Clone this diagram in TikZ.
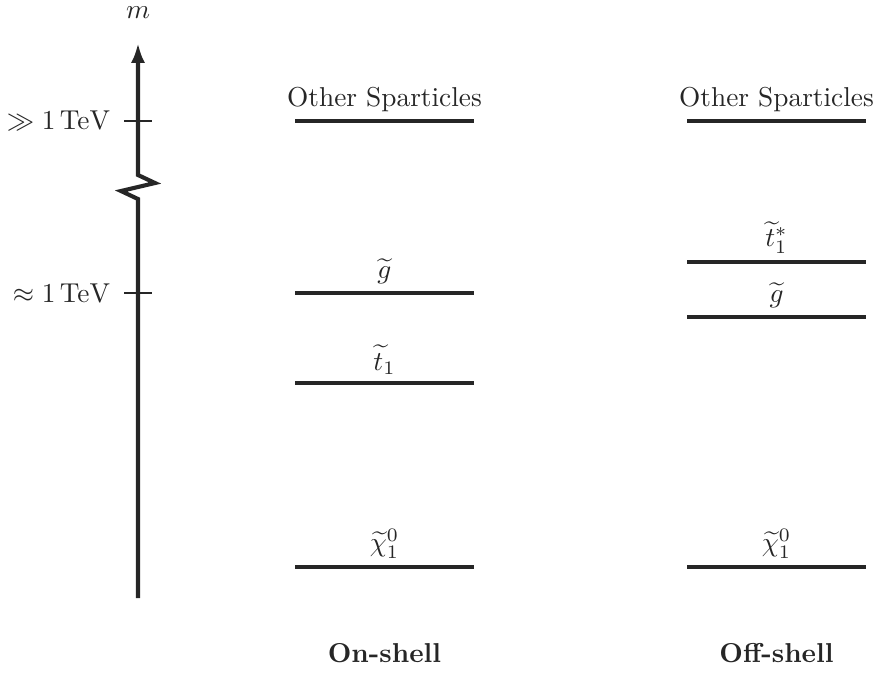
\documentclass[tikz,border=0pt]{standalone}
\usepackage{amsmath,amssymb}
\usetikzlibrary{arrows.meta}
\begin{document}
\begin{tikzpicture}[x=0.366pt,y=-0.366pt,
  ink/.style={draw=black!85},
  axisline/.style={ink, line width=1.5pt, line join=miter},
  tickline/.style={ink, line width=0.8pt},
  levelline/.style={ink, line width=1.5pt},
  lbl/.style={above, inner sep=2.5pt, text=black!85},
  tag/.style={text=black!85, inner sep=0pt}]
\useasboundingbox (0,0) rectangle (879,673);
% axis
\coordinate (axb) at (138,598);
\coordinate (z1) at (138,199);
\coordinate (z2) at (121,191);
\coordinate (z3) at (155,183);
\coordinate (z4) at (138,175);
\coordinate (axt) at (138,43);
\draw[axisline, -{Latex[length=7.3pt,width=5.2pt]}] (axb) -- (z1) -- (z2) -- (z3) -- (z4) -- (axt);
\node[tag] (mlab) at (138,13) {$m$};
% ticks
\coordinate (t1l) at (124,121); \coordinate (t1r) at (152,121);
\coordinate (t2l) at (124,293); \coordinate (t2r) at (152,293);
\draw[tickline] (t1l) -- (t1r);
\draw[tickline] (t2l) -- (t2r);
\node[tag, anchor=east] (tev1) at (111,121) {$\gg 1\,\mathrm{TeV}$};
\node[tag, anchor=east] (tev2) at (111,293) {$\approx 1\,\mathrm{TeV}$};
% on-shell
\draw[levelline] (295,121) -- (474,121) node[lbl, midway] (onother) {Other Sparticles};
\draw[levelline] (295,293) -- (474,293) node[lbl, midway] (ong) {$\widetilde{g}$};
\draw[levelline] (295,383) -- (474,383) node[lbl, midway] (ont) {$\widetilde{t}_1$};
\draw[levelline] (295,567) -- (474,567) node[lbl, midway] (onchi) {$\widetilde{\chi}^0_1$};
\node[tag] (onshell) at (384.5,653) {\textbf{On-shell}};
% off-shell
\draw[levelline] (687,121) -- (866,121) node[lbl, midway] (offother) {Other Sparticles};
\draw[levelline] (687,262) -- (866,262) node[lbl, midway] (offt) {$\widetilde{t}^*_1$};
\draw[levelline] (687,317) -- (866,317) node[lbl, midway] (offg) {$\widetilde{g}$};
\draw[levelline] (687,567) -- (866,567) node[lbl, midway] (offchi) {$\widetilde{\chi}^0_1$};
\node[tag] (offshell) at (776.5,653) {\textbf{Off-shell}};
\end{tikzpicture}
\end{document}
